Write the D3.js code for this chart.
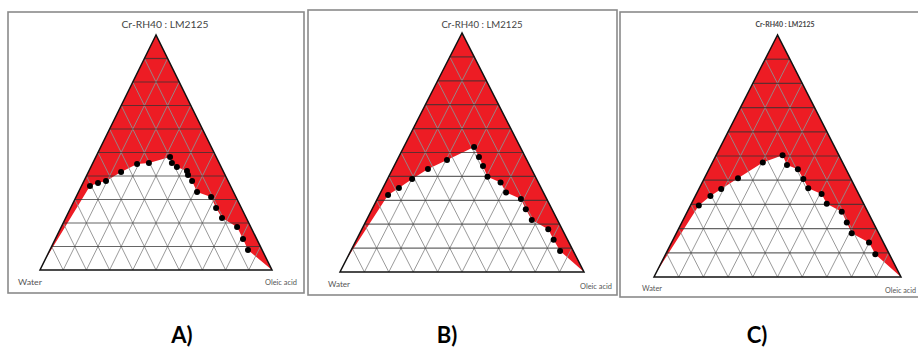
<!DOCTYPE html>
<html>
<head>
<meta charset="utf-8">
<script src="https://cdn.jsdelivr.net/npm/d3@7"></script>
<style>
    body { margin: 0; background: #fff; }
    svg { display: block; }
</style>
</head>
<body>
<div id="chart"></div>
<script>
// values: [surfactant %, oleic acid %], water = rest
const pointsA = [
    [35.7, 3.7], [37.0, 6.5], [37.9, 9.5], [41.7, 14.1], [45.1, 19.3],
    [45.5, 24.2], [48.1, 32.0], [45.5, 34.1], [43.8, 37.1], [42.1, 42.3],
    [40.4, 43.6], [37.9, 46.6], [33.2, 51.1], [31.1, 58.2], [26.4, 62.7],
    [22.1, 67.4], [18.3, 75.8], [13.2, 80.9], [8.5, 85.4],
]
const pointsB = [
    [32.2, 3.6], [35.1, 6.6], [38.9, 10.1], [43.1, 14.5], [46.9, 20.4],
    [52.3, 28.8], [48.1, 32.9], [44.4, 36.4], [39.9, 40.5], [37.4, 47.1],
    [33.3, 51.4], [30.5, 58.9], [26.3, 63.0], [21.8, 67.7], [17.9, 76.4],
    [13.5, 80.8], [8.8, 85.8],
]
const pointsC = [
    [29.5, 3.4], [33.5, 6.1], [36.4, 9.0], [40.8, 13.6], [47.3, 20.4],
    [50.3, 26.9], [46.3, 30.7], [44.5, 36.0], [40.5, 40.2], [36.7, 44.1],
    [34.3, 50.7], [30.3, 54.8], [27.0, 62.5], [22.5, 66.8], [18.1, 71.0],
    [14.3, 79.9], [9.4, 84.9],
]
// surfactant % where the red region meets the water edge
const edgeStart = [4, 5, 2]

const titles = ["Cr-RH40 : LM2125", "Cr-RH40 : LM2125", "Cr-RH40 : LM2125"]
const panelLetters = ["A)", "B)", "C)"]
const vertexLabels = ["Water", "Oleic acid"]
const gridLevels = [10, 20, 30, 40, 50, 60, 70, 80, 90]

const width = 918
const height = 347
const red = "#ed1c24"

// pixel layout of each panel
const layout = [
    {
        box: [8, 12, 304, 293],
        tri: {left: 40, right: 272, base: 270, apex: 35},
        title: {x: 165, y: 28, len: 87, size: 10, weight: 400},
        water: {x: 18, y: 285, len: 24},
        oil: {x: 265, y: 285, len: 32},
        letter: {x: 182, y: 343},
    },
    {
        box: [308, 10, 617, 295],
        tri: {left: 340, right: 584, base: 272, apex: 33},
        title: {x: 482, y: 28, len: 81, size: 10, weight: 400},
        water: {x: 328, y: 287, len: 22},
        oil: {x: 580, y: 289, len: 32},
        letter: {x: 447, y: 343},
    },
    {
        box: [620, 12, 930, 297],
        tri: {left: 654, right: 901, base: 277, apex: 35},
        title: {x: 785, y: 27, len: 59, size: 8, weight: 700},
        water: {x: 642, y: 291, len: 20},
        oil: {x: 885, y: 293, len: 31},
        letter: {x: 757, y: 343},
    },
]
const allPoints = [pointsA, pointsB, pointsC]

const svg = d3
    .select("#chart")
    .append("svg")
    .attr("width", width)
    .attr("height", height)
    .attr("viewBox", [0, 0, width, height])

layout.forEach((p, i) => {
    const g = svg.append("g")
    const t = p.tri

    // horizontal = oil + surfactant / 2, vertical = surfactant
    const x = d3.scaleLinear().domain([0, 100]).range([t.left, t.right])
    const y = d3.scaleLinear().domain([0, 100]).range([t.base, t.apex])
    const proj = ([s, o]) => [x(o + s / 2), y(s)]

    g.append("rect")
        .attr("x", p.box[0])
        .attr("y", p.box[1])
        .attr("width", p.box[2] - p.box[0])
        .attr("height", p.box[3] - p.box[1])
        .attr("fill", "none")
        .attr("stroke", "#8a8a8a")
        .attr("stroke-width", 1.6)

    // red region: apex, down the water edge, along the boundary, to oil corner
    const pts = allPoints[i]
    const region = [[100, 0], [edgeStart[i], 0], ...pts, [0, 100]]
    g.append("path")
        .attr("d", d3.line()(region.map(proj)) + "Z")
        .attr("fill", red)

    // grid
    const diag = g.append("g").attr("stroke", "#8f8f8f").attr("stroke-width", 0.9)
    gridLevels.forEach((k) => {
        // constant oil
        diag.append("line")
            .attr("x1", proj([0, k])[0]).attr("y1", proj([0, k])[1])
            .attr("x2", proj([100 - k, k])[0]).attr("y2", proj([100 - k, k])[1])
        // constant water
        diag.append("line")
            .attr("x1", proj([0, 100 - k])[0]).attr("y1", proj([0, 100 - k])[1])
            .attr("x2", proj([100 - k, 0])[0]).attr("y2", proj([100 - k, 0])[1])
    })
    const hor = g.append("g").attr("stroke", "#333").attr("stroke-opacity", 0.75).attr("stroke-width", 1.2)
    gridLevels.forEach((k) => {
        hor.append("line")
            .attr("x1", proj([k, 0])[0]).attr("y1", proj([k, 0])[1])
            .attr("x2", proj([k, 100 - k])[0]).attr("y2", proj([k, 100 - k])[1])
    })

    // outline
    g.append("path")
        .attr("d", d3.line()([[100, 0], [0, 0], [0, 100]].map(proj)) + "Z")
        .attr("fill", "none")
        .attr("stroke", "#111")
        .attr("stroke-width", 1.5)

    g.append("g")
        .selectAll("circle")
        .data(pts)
        .join("circle")
        .attr("cx", (d) => proj(d)[0])
        .attr("cy", (d) => proj(d)[1])
        .attr("r", 3)
        .attr("fill", "#000")

    g.append("text")
        .attr("x", p.title.x)
        .attr("y", p.title.y)
        .attr("text-anchor", "middle")
        .attr("font-family", "Lato, 'Open Sans', sans-serif")
        .attr("font-size", p.title.size)
        .attr("font-weight", p.title.weight)
        .attr("fill", "#444")
        .attr("textLength", p.title.len)
        .attr("lengthAdjust", "spacingAndGlyphs")
        .text(titles[i])

    ;[p.water, p.oil].forEach((l, j) => {
        g.append("text")
            .attr("x", l.x)
            .attr("y", l.y)
            .attr("font-family", "Lato, 'Open Sans', sans-serif")
            .attr("font-size", 8)
            .attr("fill", "#555")
            .attr("textLength", l.len)
            .attr("lengthAdjust", "spacingAndGlyphs")
            .text(vertexLabels[j])
    })

    svg.append("text")
        .attr("x", p.letter.x)
        .attr("y", p.letter.y)
        .attr("text-anchor", "middle")
        .attr("font-family", "Lato, sans-serif")
        .attr("font-size", 22)
        .attr("font-weight", 700)
        .attr("fill", "#000")
        .text(panelLetters[i])
})
</script>
</body>
</html>
